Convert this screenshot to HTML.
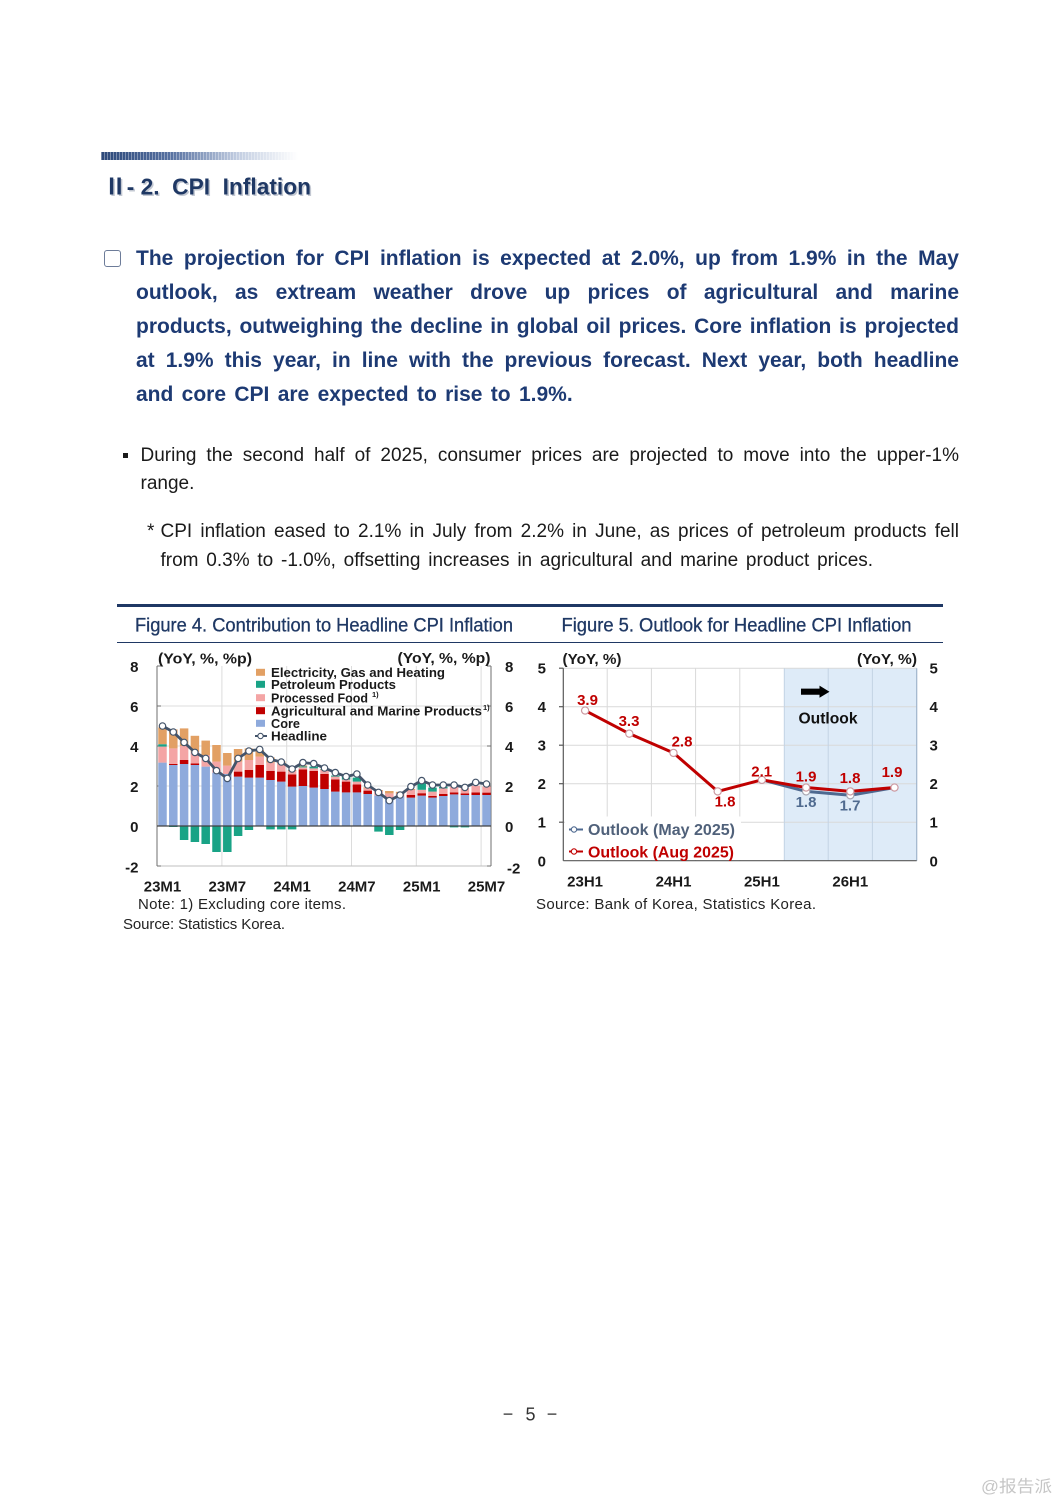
<!DOCTYPE html>
<html><head><meta charset="utf-8">
<style>
html,body{margin:0;padding:0;background:#fff;}
body{width:1061px;height:1500px;position:relative;overflow:hidden;font-family:"Liberation Sans","Noto Sans CJK KR",sans-serif;}
.ln{position:absolute;white-space:normal;overflow:visible;}
.j{text-align:justify;text-align-last:justify;}
.p1{left:136px;width:823px;font-size:21px;line-height:34px;height:34px;font-weight:bold;color:#1d3a73;}
.p2{font-size:19px;line-height:29px;height:29px;color:#1a1a1a;}
svg.main{position:absolute;left:0;top:0;}
</style></head><body>
<svg class="main" width="1061" height="1500" viewBox="0 0 1061 1500" xmlns="http://www.w3.org/2000/svg" font-family="Liberation Sans, Noto Sans CJK KR, sans-serif">
<defs>
<linearGradient id="hg" x1="0" x2="1" y1="0" y2="0">
<stop offset="0" stop-color="#2c4879"/>
<stop offset="0.35" stop-color="#5670a0"/>
<stop offset="0.7" stop-color="#c4cfe2"/>
<stop offset="1" stop-color="#ffffff"/>
</linearGradient>
<pattern id="st" width="3" height="8" patternUnits="userSpaceOnUse"><rect x="2" y="0" width="1" height="8" fill="#ffffff" opacity="0.35"/></pattern>
</defs>

<!-- header -->
<rect x="101" y="152" width="197" height="8" fill="url(#hg)"/>
<rect x="101" y="152" width="197" height="8" fill="url(#st)"/>
<text x="105.5" y="196" font-size="23" font-weight="bold" fill="#c3c8d2" textLength="207" lengthAdjust="spacingAndGlyphs" xml:space="preserve"><tspan font-family="Noto Sans CJK KR, sans-serif">Ⅱ</tspan>- 2.  CPI  Inflation</text>
<text x="104" y="194.5" font-size="23" font-weight="bold" fill="#1f3864" textLength="207" lengthAdjust="spacingAndGlyphs" xml:space="preserve"><tspan font-family="Noto Sans CJK KR, sans-serif">Ⅱ</tspan>- 2.  CPI  Inflation</text>

<!-- figure header -->
<rect x="117" y="604" width="826" height="3" fill="#1f3864"/>
<line x1="117" y1="642.5" x2="943" y2="642.5" stroke="#1f3864" stroke-width="1"/>
<text x="135" y="631.5" font-size="19.5" fill="#1f3864" stroke="#1f3864" stroke-width="0.3" textLength="378" lengthAdjust="spacingAndGlyphs">Figure 4. Contribution to Headline CPI Inflation</text>
<text x="561.5" y="631.5" font-size="19.5" fill="#1f3864" stroke="#1f3864" stroke-width="0.3" textLength="350" lengthAdjust="spacingAndGlyphs">Figure 5. Outlook for Headline CPI Inflation</text>

<!-- ================= CHART 1 ================= -->
<g stroke="#dcdcdc" stroke-width="1">
<line x1="157" y1="706" x2="491" y2="706"/>
<line x1="157" y1="746" x2="491" y2="746"/>
<line x1="157" y1="786" x2="491" y2="786"/>
<line x1="221.9" y1="666" x2="221.9" y2="866"/>
<line x1="286.7" y1="666" x2="286.7" y2="866"/>
<line x1="351.5" y1="666" x2="351.5" y2="866"/>
<line x1="416.3" y1="666" x2="416.3" y2="866"/>
<line x1="481.1" y1="666" x2="481.1" y2="866"/>
</g>
<line x1="157" y1="866" x2="491" y2="866" stroke="#bfbfbf" stroke-width="1"/>
<g stroke="#6f6f6f" stroke-width="1">
<line x1="157" y1="666" x2="157" y2="866"/>
<line x1="491" y1="666" x2="491" y2="866"/>
<line x1="157" y1="666" x2="161" y2="666"/><line x1="157" y1="706" x2="161" y2="706"/><line x1="157" y1="746" x2="161" y2="746"/><line x1="157" y1="786" x2="161" y2="786"/><line x1="157" y1="866" x2="161" y2="866"/>
<line x1="487" y1="666" x2="491" y2="666"/><line x1="487" y1="706" x2="491" y2="706"/><line x1="487" y1="746" x2="491" y2="746"/><line x1="487" y1="786" x2="491" y2="786"/><line x1="487" y1="866" x2="491" y2="866"/>
</g>

<!-- core -->
<g fill="#8eaadc">
<rect x="158.25" y="762.6" width="8.5" height="63.4"/>
<rect x="169.05" y="765" width="8.5" height="61"/>
<rect x="179.85" y="764" width="8.5" height="62"/>
<rect x="190.65" y="765" width="8.5" height="61"/>
<rect x="201.45" y="766.6" width="8.5" height="59.4"/>
<rect x="212.25" y="772.6" width="8.5" height="53.4"/>
<rect x="223.05" y="774" width="8.5" height="52"/>
<rect x="233.85" y="776.6" width="8.5" height="49.4"/>
<rect x="244.65" y="777.6" width="8.5" height="48.4"/>
<rect x="255.45" y="777.6" width="8.5" height="48.4"/>
<rect x="266.25" y="780" width="8.5" height="46"/>
<rect x="277.05" y="781.6" width="8.5" height="44.4"/>
<rect x="287.85" y="786.6" width="8.5" height="39.4"/>
<rect x="298.65" y="786" width="8.5" height="40"/>
<rect x="309.45" y="787.6" width="8.5" height="38.4"/>
<rect x="320.25" y="789" width="8.5" height="37"/>
<rect x="331.05" y="791.6" width="8.5" height="34.4"/>
<rect x="341.85" y="792.4" width="8.5" height="33.6"/>
<rect x="352.65" y="792.4" width="8.5" height="33.6"/>
<rect x="363.45" y="794" width="8.5" height="32"/>
<rect x="374.25" y="795.6" width="8.5" height="30.4"/>
<rect x="385.05" y="798.4" width="8.5" height="27.6"/>
<rect x="395.85" y="796.6" width="8.5" height="29.4"/>
<rect x="406.65" y="797.6" width="8.5" height="28.4"/>
<rect x="417.45" y="795.6" width="8.5" height="30.4"/>
<rect x="428.25" y="797.6" width="8.5" height="28.4"/>
<rect x="439.05" y="796" width="8.5" height="30"/>
<rect x="449.85" y="794.4" width="8.5" height="31.6"/>
<rect x="460.65" y="795" width="8.5" height="31"/>
<rect x="471.45" y="795" width="8.5" height="31"/>
<rect x="482.25" y="795" width="8.5" height="31"/>
</g>
<!-- agri red -->
<g fill="#c00000">
<rect x="169.05" y="764" width="8.5" height="1"/>
<rect x="179.85" y="760" width="8.5" height="4"/>
<rect x="190.65" y="763.4" width="8.5" height="1.6"/>
<rect x="233.85" y="771.6" width="8.5" height="5"/>
<rect x="244.65" y="770" width="8.5" height="7.6"/>
<rect x="255.45" y="765" width="8.5" height="12.6"/>
<rect x="266.25" y="771" width="8.5" height="9"/>
<rect x="277.05" y="771.6" width="8.5" height="10"/>
<rect x="287.85" y="774.4" width="8.5" height="12.2"/>
<rect x="298.65" y="769.4" width="8.5" height="16.6"/>
<rect x="309.45" y="771" width="8.5" height="16.6"/>
<rect x="320.25" y="774" width="8.5" height="15"/>
<rect x="331.05" y="779.4" width="8.5" height="12.2"/>
<rect x="341.85" y="781.6" width="8.5" height="10.8"/>
<rect x="352.65" y="784.4" width="8.5" height="8"/>
<rect x="363.45" y="790.6" width="8.5" height="3.4"/>
<rect x="406.65" y="795" width="8.5" height="2.6"/>
<rect x="417.45" y="793.2" width="8.5" height="2.4"/>
<rect x="428.25" y="796" width="8.5" height="1.6"/>
<rect x="439.05" y="794" width="8.5" height="2"/>
<rect x="449.85" y="792.4" width="8.5" height="2"/>
<rect x="460.65" y="793.4" width="8.5" height="1.6"/>
<rect x="471.45" y="792.4" width="8.5" height="2.6"/>
<rect x="482.25" y="792.6" width="8.5" height="2.4"/>
</g>
<!-- processed food pink -->
<g fill="#f4a5a5">
<rect x="158.25" y="746.6" width="8.5" height="16"/>
<rect x="169.05" y="748.4" width="8.5" height="15.6"/>
<rect x="179.85" y="746" width="8.5" height="14"/>
<rect x="190.65" y="751.8" width="8.5" height="11.6"/>
<rect x="201.45" y="755" width="8.5" height="11.6"/>
<rect x="212.25" y="761.6" width="8.5" height="11"/>
<rect x="223.05" y="765.6" width="8.5" height="8.4"/>
<rect x="233.85" y="761.6" width="8.5" height="10"/>
<rect x="244.65" y="760" width="8.5" height="10"/>
<rect x="255.45" y="756.6" width="8.5" height="8.4"/>
<rect x="266.25" y="762.6" width="8.5" height="8.4"/>
<rect x="277.05" y="763.4" width="8.5" height="8.2"/>
<rect x="287.85" y="771" width="8.5" height="3.4"/>
<rect x="298.65" y="767.4" width="8.5" height="2"/>
<rect x="309.45" y="768.4" width="8.5" height="2.6"/>
<rect x="320.25" y="770" width="8.5" height="4"/>
<rect x="331.05" y="776.6" width="8.5" height="2.8"/>
<rect x="341.85" y="779.6" width="8.5" height="2"/>
<rect x="352.65" y="781.6" width="8.5" height="2.8"/>
<rect x="363.45" y="788.4" width="8.5" height="2.2"/>
<rect x="374.25" y="791" width="8.5" height="4.6"/>
<rect x="385.05" y="793.4" width="8.5" height="5"/>
<rect x="395.85" y="793.4" width="8.5" height="3.2"/>
<rect x="406.65" y="790" width="8.5" height="5"/>
<rect x="417.45" y="789.8" width="8.5" height="3.4"/>
<rect x="428.25" y="791.6" width="8.5" height="4.4"/>
<rect x="439.05" y="788.4" width="8.5" height="5.6"/>
<rect x="449.85" y="786.8" width="8.5" height="5.6"/>
<rect x="460.65" y="787.8" width="8.5" height="5.6"/>
<rect x="471.45" y="785.8" width="8.5" height="6.6"/>
<rect x="482.25" y="786.6" width="8.5" height="6"/>
</g>
<!-- petroleum green -->
<g fill="#19a386">
<rect x="158.25" y="744.2" width="8.5" height="2.4"/>
<rect x="298.65" y="766.4" width="8.5" height="1"/>
<rect x="309.45" y="766.6" width="8.5" height="1.8"/>
<rect x="320.25" y="769.4" width="8.5" height="0.6"/>
<rect x="331.05" y="775.6" width="8.5" height="1"/>
<rect x="341.85" y="776.6" width="8.5" height="3"/>
<rect x="352.65" y="777.6" width="8.5" height="4"/>
<rect x="417.45" y="783.2" width="8.5" height="6.6"/>
<rect x="428.25" y="787.6" width="8.5" height="4"/>
<rect x="439.05" y="786.8" width="8.5" height="1.6"/>
<rect x="169.05" y="826" width="8.5" height="1"/>
<rect x="179.85" y="826" width="8.5" height="14"/>
<rect x="190.65" y="826" width="8.5" height="16"/>
<rect x="201.45" y="826" width="8.5" height="18"/>
<rect x="212.25" y="826" width="8.5" height="26"/>
<rect x="223.05" y="826" width="8.5" height="26"/>
<rect x="233.85" y="826" width="8.5" height="10"/>
<rect x="244.65" y="826" width="8.5" height="4"/>
<rect x="266.25" y="826" width="8.5" height="3.4"/>
<rect x="277.05" y="826" width="8.5" height="3.4"/>
<rect x="287.85" y="826" width="8.5" height="3.4"/>
<rect x="374.25" y="826" width="8.5" height="5.6"/>
<rect x="385.05" y="826" width="8.5" height="9"/>
<rect x="395.85" y="826" width="8.5" height="4"/>
<rect x="449.85" y="826" width="8.5" height="1.4"/>
<rect x="460.65" y="826" width="8.5" height="1.4"/>
</g>
<!-- electricity orange -->
<g fill="#e2a064">
<rect x="158.25" y="727.4" width="8.5" height="16.8"/>
<rect x="169.05" y="729.4" width="8.5" height="19"/>
<rect x="179.85" y="728.4" width="8.5" height="17.6"/>
<rect x="190.65" y="735.8" width="8.5" height="16"/>
<rect x="201.45" y="740.6" width="8.5" height="14.4"/>
<rect x="212.25" y="745" width="8.5" height="16.6"/>
<rect x="223.05" y="753" width="8.5" height="12.6"/>
<rect x="233.85" y="749" width="8.5" height="12.6"/>
<rect x="244.65" y="748.4" width="8.5" height="11.6"/>
<rect x="255.45" y="750" width="8.5" height="6.6"/>
<rect x="266.25" y="757.4" width="8.5" height="5.2"/>
<rect x="277.05" y="761.4" width="8.5" height="2"/>
<rect x="287.85" y="770" width="8.5" height="1"/>
<rect x="298.65" y="765.4" width="8.5" height="1"/>
<rect x="320.25" y="769" width="8.5" height="0.6"/>
<rect x="363.45" y="787.4" width="8.5" height="1"/>
<rect x="374.25" y="790" width="8.5" height="1"/>
<rect x="385.05" y="791" width="8.5" height="2.4"/>
<rect x="395.85" y="791.8" width="8.5" height="1.6"/>
<rect x="406.65" y="789" width="8.5" height="1"/>
</g>
<line x1="157" y1="826" x2="491" y2="826" stroke="#404040" stroke-width="1.3"/>
<!-- headline -->
<polyline fill="none" stroke="#44546a" stroke-width="2.8" stroke-linejoin="round" points="162.5,726 173.3,732 184.1,742.4 194.9,752.4 205.7,758.4 216.5,770.6 227.3,778.4 238.1,758.4 248.9,751 259.7,749.4 270.5,759.4 281.3,762 292.1,769 302.9,762.6 313.7,763.6 324.5,768 335.3,772.6 346.1,776.6 356.9,774 367.7,785 378.5,792.4 389.3,800.6 400.1,795 410.9,786.6 421.7,780.6 432.5,785 443.3,785 454.1,785 464.9,787.4 475.7,782.4 486.5,784"/>
<g fill="#ffffff" stroke="#44546a" stroke-width="1.2">
<circle cx="162.5" cy="726" r="3.2"/><circle cx="173.3" cy="732" r="3.2"/><circle cx="184.1" cy="742.4" r="3.2"/><circle cx="194.9" cy="752.4" r="3.2"/><circle cx="205.7" cy="758.4" r="3.2"/><circle cx="216.5" cy="770.6" r="3.2"/><circle cx="227.3" cy="778.4" r="3.2"/><circle cx="238.1" cy="758.4" r="3.2"/><circle cx="248.9" cy="751" r="3.2"/><circle cx="259.7" cy="749.4" r="3.2"/><circle cx="270.5" cy="759.4" r="3.2"/><circle cx="281.3" cy="762" r="3.2"/><circle cx="292.1" cy="769" r="3.2"/><circle cx="302.9" cy="762.6" r="3.2"/><circle cx="313.7" cy="763.6" r="3.2"/><circle cx="324.5" cy="768" r="3.2"/><circle cx="335.3" cy="772.6" r="3.2"/><circle cx="346.1" cy="776.6" r="3.2"/><circle cx="356.9" cy="774" r="3.2"/><circle cx="367.7" cy="785" r="3.2"/><circle cx="378.5" cy="792.4" r="3.2"/><circle cx="389.3" cy="800.6" r="3.2"/><circle cx="400.1" cy="795" r="3.2"/><circle cx="410.9" cy="786.6" r="3.2"/><circle cx="421.7" cy="780.6" r="3.2"/><circle cx="432.5" cy="785" r="3.2"/><circle cx="443.3" cy="785" r="3.2"/><circle cx="454.1" cy="785" r="3.2"/><circle cx="464.9" cy="787.4" r="3.2"/><circle cx="475.7" cy="782.4" r="3.2"/><circle cx="486.5" cy="784" r="3.2"/>
</g>
<!-- legend chart1 -->
<rect x="256" y="668.8" width="9" height="7" fill="#e2a064"/>
<rect x="256" y="680.8" width="9" height="7" fill="#19a386"/>
<rect x="256" y="694.2" width="9" height="7" fill="#f4a5a5"/>
<rect x="256" y="707.2" width="9" height="7" fill="#c00000"/>
<rect x="256" y="719.8" width="9" height="7" fill="#8eaadc"/>
<line x1="255" y1="736" x2="267" y2="736" stroke="#44546a" stroke-width="2"/>
<circle cx="260.5" cy="736" r="2.7" fill="#fff" stroke="#44546a" stroke-width="1.1"/>
<g font-size="12.5" font-weight="bold" fill="#1a1a1a">
<text x="271" y="677" textLength="174" lengthAdjust="spacingAndGlyphs">Electricity, Gas and Heating</text>
<text x="271" y="689" textLength="125" lengthAdjust="spacingAndGlyphs">Petroleum Products</text>
<text x="271" y="702.3" textLength="97" lengthAdjust="spacingAndGlyphs">Processed Food</text>
<text x="372" y="697" font-size="7.5">1)</text>
<text x="271" y="715.3" textLength="211" lengthAdjust="spacingAndGlyphs">Agricultural and Marine Products</text>
<text x="483" y="710" font-size="7.5">1)</text>
<text x="271" y="728" textLength="29" lengthAdjust="spacingAndGlyphs">Core</text>
<text x="271" y="740.5" textLength="56" lengthAdjust="spacingAndGlyphs">Headline</text>
</g>
<g font-size="15" font-weight="bold" fill="#1a1a1a">
<text x="158" y="663.3" textLength="94" lengthAdjust="spacingAndGlyphs">(YoY, %, %p)</text>
<text x="397.5" y="663" textLength="93" lengthAdjust="spacingAndGlyphs">(YoY, %, %p)</text>
</g>
<g font-size="15" font-weight="bold" fill="#1a1a1a" text-anchor="end">
<text x="138.5" y="672">8</text><text x="138.5" y="712">6</text><text x="138.5" y="752">4</text><text x="138.5" y="792">2</text><text x="138.5" y="832">0</text><text x="138.5" y="872.5">-2</text>
</g>
<g font-size="15" font-weight="bold" fill="#1a1a1a">
<text x="505" y="672">8</text><text x="505" y="712">6</text><text x="505" y="752">4</text><text x="505" y="792">2</text><text x="505" y="832">0</text><text x="507" y="873.5">-2</text>
</g>
<g font-size="15" font-weight="bold" fill="#1a1a1a" text-anchor="middle">
<text x="162.5" y="891.5">23M1</text><text x="227.3" y="891.5">23M7</text><text x="292.1" y="891.5">24M1</text><text x="356.9" y="891.5">24M7</text><text x="421.7" y="891.5">25M1</text><text x="486.5" y="891.5">25M7</text>
</g>
<g font-size="15" fill="#222">
<text x="138" y="909" textLength="208" lengthAdjust="spacing">Note: 1) Excluding core items.</text>
<text x="123" y="929" textLength="162" lengthAdjust="spacing">Source: Statistics Korea.</text>
<text x="536" y="909" textLength="280" lengthAdjust="spacing">Source: Bank of Korea, Statistics Korea.</text>
</g>

<!-- ================= CHART 2 ================= -->
<rect x="784.3" y="668.2" width="132.4" height="192.5" fill="#deebf8"/>
<g stroke="#d9d9d9" stroke-width="1">
<line x1="563" y1="668.2" x2="916.7" y2="668.2"/>
<line x1="563" y1="706.7" x2="916.7" y2="706.7"/>
<line x1="563" y1="745.2" x2="916.7" y2="745.2"/>
<line x1="563" y1="783.7" x2="916.7" y2="783.7"/>
<line x1="563" y1="822.2" x2="916.7" y2="822.2"/>
<line x1="607.2" y1="668.2" x2="607.2" y2="860.7"/>
<line x1="651.4" y1="668.2" x2="651.4" y2="860.7"/>
<line x1="695.6" y1="668.2" x2="695.6" y2="860.7"/>
<line x1="739.8" y1="668.2" x2="739.8" y2="860.7"/>
</g>
<g stroke="#c3d3e4" stroke-width="1">
<line x1="784.3" y1="668.2" x2="784.3" y2="860.7"/>
<line x1="828.2" y1="668.2" x2="828.2" y2="860.7"/>
<line x1="872.4" y1="668.2" x2="872.4" y2="860.7"/>
</g>
<line x1="916.7" y1="668.2" x2="916.7" y2="860.7" stroke="#9fb4cc" stroke-width="1.2"/>
<!-- legend bg -->
<rect x="565" y="816.5" width="176" height="43.5" fill="#ffffff"/>
<g stroke="#595959" stroke-width="1.2">
<line x1="563.3" y1="668.2" x2="563.3" y2="860.7"/>
<line x1="563.3" y1="860.7" x2="916.7" y2="860.7"/>
<line x1="559" y1="668.2" x2="563.3" y2="668.2"/><line x1="559" y1="706.7" x2="563.3" y2="706.7"/><line x1="559" y1="745.2" x2="563.3" y2="745.2"/><line x1="559" y1="783.7" x2="563.3" y2="783.7"/><line x1="559" y1="822.2" x2="563.3" y2="822.2"/>
</g>
<!-- arrow -->
<polygon points="801,688.6 819.5,688.6 819.5,685.6 829.5,691.7 819.5,697.8 819.5,694.8 801,694.8" fill="#000"/>
<text x="828" y="723.5" font-size="16" font-weight="bold" fill="#111" text-anchor="middle" textLength="59" lengthAdjust="spacingAndGlyphs">Outlook</text>
<!-- lines -->
<polyline fill="none" stroke="#4e6990" stroke-width="3" stroke-linejoin="round" points="761.9,779.85 806.1,791.4 850.3,795.25 894.5,787.55"/>
<polyline fill="none" stroke="#c00000" stroke-width="3" stroke-linejoin="round" points="585.1,710.55 629.3,733.65 673.5,752.9 717.7,791.4 761.9,779.85 806.1,787.55 850.3,791.4 894.5,787.55"/>
<g fill="#ffffff" stroke="#a9a9b4" stroke-width="1.2">
<circle cx="806.1" cy="791.4" r="3.6"/><circle cx="850.3" cy="795.25" r="3.6"/>
</g>
<g fill="#ffffff" stroke="#cc9aa2" stroke-width="1.2">
<circle cx="585.1" cy="710.55" r="3.6"/><circle cx="629.3" cy="733.65" r="3.6"/><circle cx="673.5" cy="752.9" r="3.6"/><circle cx="717.7" cy="791.4" r="3.6"/><circle cx="761.9" cy="779.85" r="3.6"/><circle cx="806.1" cy="787.55" r="3.6"/><circle cx="850.3" cy="791.4" r="3.6"/><circle cx="894.5" cy="787.55" r="3.6"/>
</g>
<g font-size="15" font-weight="bold" fill="#c00000" text-anchor="middle">
<text x="587.5" y="705">3.9</text>
<text x="629" y="726">3.3</text>
<text x="682" y="746.5">2.8</text>
<text x="725" y="806.5">1.8</text>
<text x="761.7" y="776.5">2.1</text>
<text x="806" y="781.5">1.9</text>
<text x="850" y="783">1.8</text>
<text x="892" y="777">1.9</text>
</g>
<g font-size="15" font-weight="bold" fill="#4f6a8f" text-anchor="middle">
<text x="806" y="807">1.8</text>
<text x="850" y="810.5">1.7</text>
</g>
<!-- legend chart2 -->
<line x1="569" y1="829.5" x2="583" y2="829.5" stroke="#4e6990" stroke-width="2"/>
<circle cx="574" cy="829.5" r="2.7" fill="#fff" stroke="#4e6990" stroke-width="1.1"/>
<line x1="569" y1="851.5" x2="583" y2="851.5" stroke="#c00000" stroke-width="2"/>
<circle cx="574" cy="851.5" r="2.7" fill="#fff" stroke="#c00000" stroke-width="1.1"/>
<text x="588" y="835" font-size="15.5" font-weight="bold" fill="#50617a" textLength="147" lengthAdjust="spacingAndGlyphs">Outlook (May 2025)</text>
<text x="588" y="857.5" font-size="15.5" font-weight="bold" fill="#c00000" textLength="146" lengthAdjust="spacingAndGlyphs">Outlook (Aug 2025)</text>
<g font-size="15" font-weight="bold" fill="#1a1a1a">
<text x="562.5" y="664" textLength="59" lengthAdjust="spacingAndGlyphs">(YoY, %)</text>
<text x="857" y="664" textLength="60" lengthAdjust="spacingAndGlyphs">(YoY, %)</text>
</g>
<g font-size="15" font-weight="bold" fill="#1a1a1a" text-anchor="end">
<text x="546" y="673.5">5</text><text x="546" y="712">4</text><text x="546" y="750.5">3</text><text x="546" y="789">2</text><text x="546" y="827.5">1</text><text x="546" y="866.5">0</text>
</g>
<g font-size="15" font-weight="bold" fill="#1a1a1a">
<text x="929.5" y="673.5">5</text><text x="929.5" y="712">4</text><text x="929.5" y="750.5">3</text><text x="929.5" y="789">2</text><text x="929.5" y="827.5">1</text><text x="929.5" y="866.5">0</text>
</g>
<g font-size="15" font-weight="bold" fill="#1a1a1a" text-anchor="middle">
<text x="585.1" y="886.5">23H1</text><text x="673.5" y="886.5">24H1</text><text x="761.9" y="886.5">25H1</text><text x="850.3" y="886.5">26H1</text>
</g>

<!-- footer -->
<g font-size="18" fill="#333" text-anchor="middle">
<text x="508" y="1420">−</text>
<text x="530.5" y="1420.5">5</text>
<text x="552" y="1420">−</text>
</g>
<text x="981" y="1492" font-size="16.5" fill="#c6c6c6" font-family="Liberation Sans, Noto Sans CJK SC, sans-serif" textLength="71" lengthAdjust="spacingAndGlyphs">@报告派</text>
</svg>

<!-- checkbox -->
<div style="position:absolute;left:103.5px;top:249.5px;width:15px;height:15px;border:1.6px solid #6d7c99;border-radius:3px;"></div>

<div class="ln p1 j" style="top:242.4px">The projection for CPI inflation is expected at 2.0%, up from 1.9% in the May</div>
<div class="ln p1 j" style="top:276.4px">outlook, as extream weather drove up prices of agricultural and marine</div>
<div class="ln p1 j" style="top:310.4px">products, outweighing the decline in global oil prices. Core inflation is projected</div>
<div class="ln p1 j" style="top:344.4px">at 1.9% this year, in line with the previous forecast. Next year, both headline</div>
<div class="ln p1" style="top:378.4px;word-spacing:2.5px;">and core CPI are expected to rise to 1.9%.</div>

<div style="position:absolute;left:123px;top:453px;width:5px;height:5px;background:#1a1a1a;"></div>
<div class="ln p2 j" style="top:440.6px;left:140.5px;width:818.5px;">During the second half of 2025, consumer prices are projected to move into the upper-1%</div>
<div class="ln p2" style="top:469px;left:140.5px;">range.</div>

<div class="ln p2" style="top:516.6px;left:147px;">*</div>
<div class="ln p2 j" style="top:516.6px;left:160.5px;width:798.5px;">CPI inflation eased to 2.1% in July from 2.2% in June, as prices of petroleum products fell</div>
<div class="ln p2" style="top:545.6px;left:160.5px;word-spacing:2.5px;">from 0.3% to -1.0%, offsetting increases in agricultural and marine product prices.</div>
</body></html>
